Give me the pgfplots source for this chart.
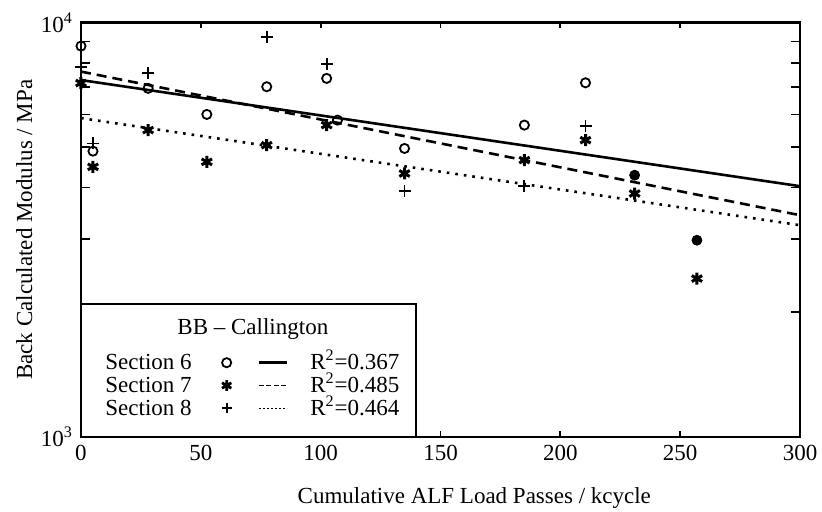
\documentclass[border=0pt]{standalone}
\usepackage{fontspec}
\setmainfont{Liberation Serif}
\usepackage{pgfplots}
\pgfplotsset{compat=1.18}
\pgfplotsset{
  mlegend/.style={legend image code/.code={\draw[##1] plot coordinates {(0pt,3.5pt)};}},
  llegend/.style={legend image code/.code={\draw[##1] (0pt,3.5pt) -- (14pt,3.5pt);}},
}
\begin{document}
\fontsize{11.5}{13.8}\selectfont
\begin{tikzpicture}
\begin{axis}[
  name=ax,
  scale only axis, width=359.5pt, height=207.25pt,
  xmin=0, xmax=300, ymin=1000, ymax=10000, ymode=log,
  xtick={0,50,100,150,200,250,300},
  ytick={1000,10000}, yticklabels={10\textsuperscript{3},10\textsuperscript{4}},
  minor ytick={2000,3000,4000,5000,6000,7000,8000,9000},
  /pgf/number format/assume math mode=true,
  tick align=inside,
  major tick length=3pt, minor tick length=4.5pt,
  axis line style={line width=1.1pt},
  every tick/.style={line width=0.9pt, black},
  xlabel={Cumulative ALF Load Passes / kcycle},
  ylabel={Back Calculated Modulus / MPa},
  xlabel style={at={(axis description cs:0.547,-0.147)}, anchor=center},
  ylabel style={at={(axis description cs:-0.079,0.5)}, anchor=center},
  legend columns=3,
  legend style={at={(axis description cs:0.0334,0.21)}, anchor=north west,
    draw=none, fill=none, inner sep=0pt, row sep=0pt,
    nodes={inner sep=0pt, anchor=base west}},
]
% fitted lines
\addplot[forget plot, black, line width=1.3pt] coordinates {(0,7262) (300,4028)};
\addplot[forget plot, black, line width=1.3pt, dash pattern=on 5pt off 3pt] coordinates {(0,7613) (300,3428)};
\addplot[forget plot, black, line width=1.3pt, dash pattern=on 1.3pt off 3pt] coordinates {(0,5879) (300,3243)};
% Section 6 (open circles)
\addplot[forget plot, only marks, mark=o, mark size=2.3pt, line width=0.9pt] coordinates {
(0,8772) (5,4893) (28,6935) (52.5,6001) (77.5,6998) (102.5,7331) (107,5814)
(135,4967) (185,5655) (210.5,7154)};
% Section 6 filled
\addplot[forget plot, only marks, mark=*, mark size=2.5pt] coordinates {(231,4281) (257,2983)};
% Section 7 (asterisks)
\addplot[forget plot, only marks, mark=asterisk, mark size=3pt, line width=1.5pt] coordinates {
(0,7142) (5,4484) (28,5500) (52.5,4610) (77.5,5059) (102.5,5655) (135,4322)
(185,4655) (210.5,5202) (231,3868) (257,2411)};
% Section 8 (plus)
\addplot[forget plot, only marks, mark=+, mark size=3pt, line width=0.9pt] coordinates {
(0,7806) (5,5107) (28,7563) (77.5,9241) (102.5,7925) (135,3917) (185,4027) (210.5,5633)};
% legend box and title
\draw[line width=0.9pt, fill=white] (axis description cs:0,0) rectangle (axis description cs:0.466,0.321);
\node[anchor=center] at (axis description cs:0.239,0.261) {BB -- Callington};
% legend entries
\addlegendimage{empty legend}\addlegendentry{Section 6\kern15pt}
\addlegendimage{only marks, mark=o, mark size=2.3pt, line width=0.9pt, mlegend}\addlegendentry{\kern13pt}
\addlegendimage{black, line width=1.3pt, llegend}\addlegendentry{\kern11pt R\textsuperscript{2}=0.367}
\addlegendimage{empty legend}\addlegendentry{Section 7\kern15pt}
\addlegendimage{only marks, mark=asterisk, mark size=2.7pt, line width=1.4pt, mlegend}\addlegendentry{\kern13pt}
\addlegendimage{black, line width=0.7pt, dash pattern=on 2.5pt off 1.2pt, llegend}\addlegendentry{\kern11pt R\textsuperscript{2}=0.485}
\addlegendimage{empty legend}\addlegendentry{Section 8\kern15pt}
\addlegendimage{only marks, mark=+, mark size=2.5pt, line width=0.9pt, mlegend}\addlegendentry{\kern13pt}
\addlegendimage{black, line width=0.7pt, dash pattern=on 0.8pt off 1.2pt, llegend}\addlegendentry{\kern11pt R\textsuperscript{2}=0.464}
\end{axis}
\pgfresetboundingbox
\path ([xshift=-40.5pt,yshift=-37.5pt]ax.south west) rectangle ([xshift=11pt,yshift=11.25pt]ax.north east);
\end{tikzpicture}
\end{document}
